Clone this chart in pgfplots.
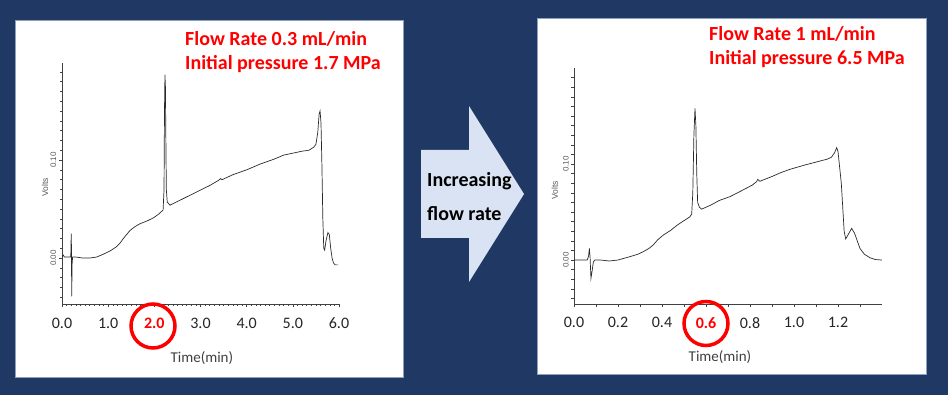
\documentclass[border=0pt]{standalone}
\usepackage{pgfplots}
\pgfplotsset{compat=1.18}
\usepackage{fontspec}
\setmainfont{Carlito}
\newfontfamily\arial{Liberation Sans}
\definecolor{navy}{HTML}{203864}
\definecolor{arrowfill}{HTML}{DAE3F3}
\definecolor{panelborder}{HTML}{8FA0BC}
\definecolor{labgray}{HTML}{404040}
\definecolor{tickgray}{HTML}{262626}
\definecolor{lred}{HTML}{FF0000}
\definecolor{curve}{HTML}{2A2A2A}

\pgfplotsset{
  chromo/.style={
    anchor=south west, scale only axis,
    axis x line=bottom, axis y line=left,
    axis line style={-, draw=black!75, line width=0.6pt},
    tick align=outside,
    tick style={draw=black!75, line width=0.5pt},
    major tick length=3.5pt, minor tick length=2pt,
    ytick={0,0.1}, yticklabels={0.00,0.10},
    minor ytick={-0.04,-0.03,-0.02,-0.01,0.01,0.02,0.03,0.04,0.05,0.06,0.07,0.08,0.09,0.11,0.12,0.13,0.14,0.15,0.16,0.17,0.18,0.19},
    yticklabel style={xshift=-2pt, rotate=90, anchor=south, inner sep=0pt, font=\arial\fontsize{8}{9}\selectfont, text=black!65},
    xticklabel style={yshift=-7pt, font=\fontsize{16}{19}\selectfont, text=tickgray},
    ylabel={Volts},
    ylabel style={anchor=center, font=\arial\fontsize{8.5}{10}\selectfont, text=black!65},
    xlabel={Time(min)},
    xlabel style={anchor=center, font=\fontsize{15}{18}\selectfont, text=labgray},
  }
}

\begin{document}
\begin{tikzpicture}[x=1pt,y=1pt]
\fill[navy] (0pt,0pt) rectangle (948pt,395pt);
\filldraw[fill=white, draw=panelborder, line width=0.8pt] (15pt,18pt) rectangle (403pt,375pt);
\filldraw[fill=white, draw=panelborder, line width=0.8pt] (537pt,21pt) rectangle (926pt,377pt);

% arrow
\fill[arrowfill] (421pt,245pt) -- (469pt,245pt) -- (469pt,289pt) -- (524pt,201pt) -- (469pt,113pt) -- (469pt,157pt) -- (421pt,157pt) -- cycle;
\node[anchor=base west, inner sep=0pt, font=\fontsize{20}{24}\selectfont\bfseries] at (427pt,208.3pt) {Increasing};
\node[anchor=base west, inner sep=0pt, font=\fontsize{20}{24}\selectfont\bfseries] at (427pt,174.3pt) {flow rate};

% panel 1 titles
\node[anchor=base west, inner sep=0pt, text=lred, font=\fontsize{20}{24}\selectfont\bfseries] at (185pt,349pt) {Flow Rate 0.3 mL/min};
\node[anchor=base west, inner sep=0pt, text=lred, font=\fontsize{20}{24}\selectfont\bfseries] at (185pt,325pt) {Initial pressure 1.7 MPa};
% panel 2 titles
\node[anchor=base west, inner sep=0pt, text=lred, font=\fontsize{20}{24}\selectfont\bfseries] at (709pt,354pt) {Flow Rate 1 mL/min};
\node[anchor=base west, inner sep=0pt, text=lred, font=\fontsize{20}{24}\selectfont\bfseries] at (709pt,330.7pt) {Initial pressure 6.5 MPa};

\begin{axis}[chromo,
  at={(62pt,91pt)}, width=277pt, height=241pt,
  xmin=0, xmax=6, ymin=-0.0469, ymax=0.199,
  xtick={0,1,2,3,4,5,6},
  xticklabels={0.0,1.0,\textcolor{lred}{\bfseries 2.0},3.0,4.0,5.0,6.0},
  minor xtick={0.1,0.2,0.3,0.4,0.5,0.6,0.7,0.8,0.9,1.1,1.2,1.3,1.4,1.5,1.6,1.7,1.8,1.9,2.1,2.2,2.3,2.4,2.5,2.6,2.7,2.8,2.9,3.1,3.2,3.3,3.4,3.5,3.6,3.7,3.8,3.9,4.1,4.2,4.3,4.4,4.5,4.6,4.7,4.8,4.9,5.1,5.2,5.3,5.4,5.5,5.6,5.7,5.8,5.9},
  xlabel style={at={(axis description cs:0.505,-0.224)}},
  ylabel style={at={(axis description cs:-0.061,0.485)}},
]
\addplot[curve, line width=0.7pt] coordinates {
(0.00,0.001) (0.03,0.003) (0.05,0.001) (0.17,0.001) (0.19,0.001) (0.20,0.025)
(0.205,0.010) (0.21,-0.039) (0.22,-0.005) (0.23,0.001) (0.30,0.001) (0.45,0.000)
(0.60,0.000) (0.75,0.001) (0.90,0.004) (1.05,0.0075) (1.18,0.0115) (1.27,0.016)
(1.33,0.020) (1.40,0.024) (1.47,0.028) (1.58,0.032) (1.69,0.035) (1.85,0.038)
(1.98,0.041) (2.10,0.045) (2.19,0.049) (2.21,0.070) (2.22,0.150) (2.23,0.187)
(2.24,0.175) (2.25,0.120) (2.26,0.070) (2.28,0.057) (2.34,0.054) (2.60,0.060)
(2.90,0.067) (3.20,0.074) (3.40,0.0795) (3.43,0.081) (3.47,0.080) (3.70,0.085)
(4.00,0.090) (4.30,0.096) (4.60,0.101) (4.80,0.105) (5.00,0.107) (5.20,0.109)
(5.35,0.110) (5.45,0.113) (5.50,0.116) (5.54,0.128) (5.57,0.147) (5.59,0.150)
(5.61,0.138) (5.63,0.095) (5.65,0.040) (5.67,0.010) (5.69,0.008) (5.72,0.018)
(5.76,0.026) (5.79,0.024) (5.82,0.010) (5.85,0.000) (5.88,-0.005) (5.92,-0.007)
(5.98,-0.007)
};
\end{axis}

\begin{axis}[chromo,
  at={(574pt,91pt)}, width=308pt, height=236pt,
  xmin=0, xmax=1.4, ymin=-0.0458, ymax=0.2,
  xtick={0,0.2,0.4,0.6,0.8,1.0,1.2},
  xticklabels={0.0,0.2,0.4,\textcolor{lred}{\bfseries 0.6},0.8,1.0,1.2},
  minor xtick={0.1,0.3,0.5,0.7,0.9,1.1,1.3},
  major tick length=3pt, minor tick length=3pt,
  xlabel style={at={(axis description cs:0.474,-0.225)}},
  ylabel style={at={(axis description cs:-0.062,0.483)}},
]
\addplot[curve, line width=0.7pt] coordinates {
(0.000,0.000) (0.060,0.000) (0.066,0.004) (0.070,0.012) (0.073,0.003) (0.077,-0.019)
(0.082,-0.012) (0.088,-0.002) (0.095,0.000) (0.120,0.000) (0.160,-0.001) (0.200,0.000)
(0.254,0.0035) (0.290,0.006) (0.315,0.0087) (0.340,0.012) (0.360,0.0156) (0.380,0.021)
(0.406,0.026) (0.440,0.031) (0.467,0.036) (0.500,0.041) (0.527,0.045) (0.535,0.048)
(0.540,0.070) (0.545,0.130) (0.550,0.158) (0.554,0.140) (0.558,0.090) (0.562,0.060)
(0.570,0.055) (0.580,0.053) (0.620,0.057) (0.660,0.062) (0.709,0.066) (0.760,0.072)
(0.810,0.078) (0.830,0.0816) (0.835,0.084) (0.845,0.082) (0.900,0.087) (0.940,0.091)
(0.982,0.0945) (1.050,0.099) (1.100,0.102) (1.150,0.105) (1.170,0.107) (1.185,0.112)
(1.194,0.117) (1.200,0.113) (1.215,0.080) (1.228,0.030) (1.235,0.022) (1.245,0.026)
(1.262,0.033) (1.275,0.028) (1.300,0.012) (1.320,0.006) (1.345,0.0024) (1.370,0.0005)
(1.399,0.000)
};
\end{axis}

% red circles
\draw[lred, line width=3.5pt] (153pt,69pt) circle[radius=22pt];
\draw[lred, line width=3.5pt] (706pt,71.5pt) circle[radius=22pt];
\end{tikzpicture}
\end{document}
